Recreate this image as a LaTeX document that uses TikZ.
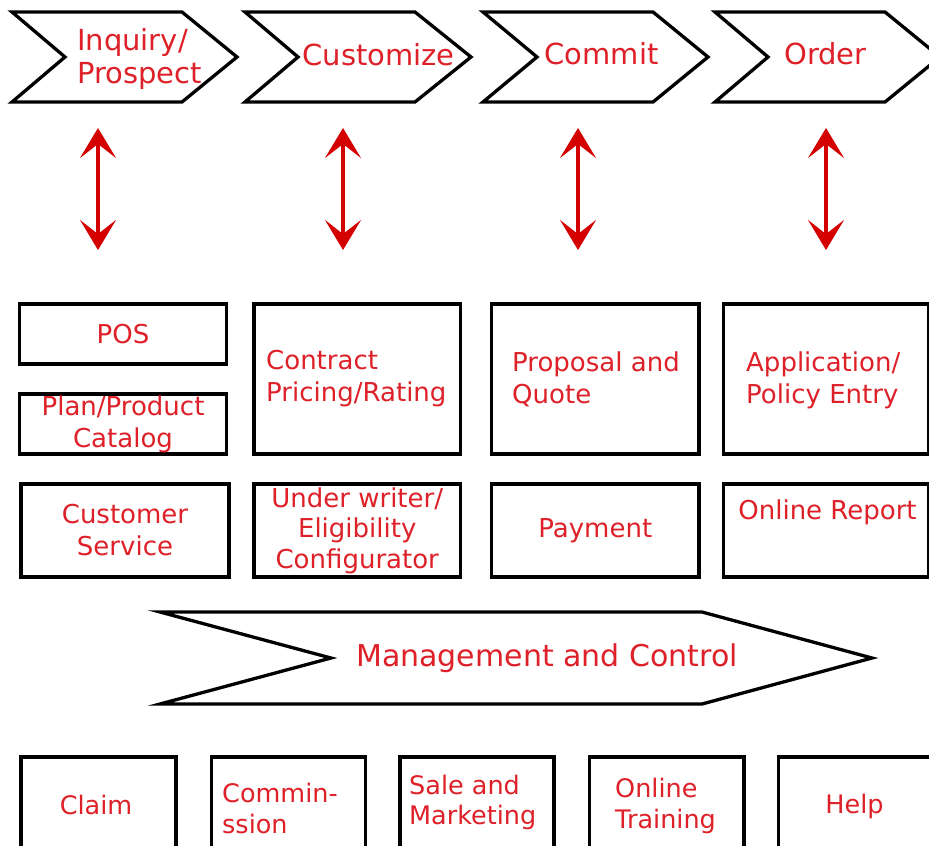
\documentclass[tikz,border=0pt]{standalone}
\usepackage{fontspec}
\setmainfont{DejaVu Sans}
\usetikzlibrary{arrows.meta}
\definecolor{labelred}{RGB}{222,32,40}
\definecolor{arrowred}{RGB}{212,0,0}

\begin{document}
\begin{tikzpicture}[x=1pt,y=-1pt,
  stage/.style={draw,line width=3.3pt,fill=white},
  block/.style={draw,line width=3.3pt,anchor=north west,inner sep=0pt,outer sep=0pt},
  lbl/.style={text=labelred,inner sep=0pt,align=center,font=\fontsize{26}{32}\selectfont},
  headlbl/.style={lbl,font=\fontsize{29}{33}\selectfont},
  baselbl/.style={lbl,align=left,font=\fontsize{25.5}{30.5}\selectfont},
  sync/.style={arrowred,line width=3.5pt,{Stealth[length=30pt,width=36pt,inset=14pt]}-{Stealth[length=30pt,width=36pt,inset=14pt]}}]

\useasboundingbox (0,0) rectangle (929,846);
\clip (0,0) rectangle (929,846);
\fill[white] (0,0) rectangle (929,846);

% process stages
\draw[stage] (12,12) -- (182,12) -- (237,57) -- (182,102) -- (12,102) -- (65,57) -- cycle;
\draw[stage] (245,12) -- (415,12) -- (471,57) -- (415,102) -- (245,102) -- (298,57) -- cycle;
\draw[stage] (483,12) -- (653,12) -- (708,57) -- (653,102) -- (483,102) -- (537,57) -- cycle;
\draw[stage] (715,12) -- (885,12) -- (940,57) -- (885,102) -- (715,102) -- (768,57) -- cycle;
\node[headlbl,align=left] (inquiry) at (139.5,59) {Inquiry/\\Prospect};
\node[headlbl] (customize) at (378.5,55) {Customize};
\node[headlbl] (commit) at (601.5,54) {Commit};
\node[headlbl] (order) at (825.5,54) {Order};

\coordinate (sync1a) at (98,128);  \coordinate (sync1b) at (98,250);
\coordinate (sync2a) at (343,128); \coordinate (sync2b) at (343,250);
\coordinate (sync3a) at (578,128); \coordinate (sync3b) at (578,250);
\coordinate (sync4a) at (826,128); \coordinate (sync4b) at (826,250);
\draw[sync] (sync1a) -- (sync1b);
\draw[sync] (sync2a) -- (sync2b);
\draw[sync] (sync3a) -- (sync3b);
\draw[sync] (sync4a) -- (sync4b);

% functions per stage
\node[block,lbl,minimum width=207,minimum height=60] (pos) at (19.5,304) {POS};
\node[block,lbl,minimum width=207,minimum height=60] (catalog) at (19.5,394) {Plan/Product\\Catalog};
\node[block,minimum width=206.5,minimum height=150] (pricing) at (254,304) {};
\node[lbl,align=left,anchor=west] (pricinglbl) at (266,379) {Contract\\Pricing/Rating};
\node[block,minimum width=207.5,minimum height=150] (proposal) at (491.5,304) {};
\node[lbl,align=left,anchor=west] (proposallbl) at (512,379) {Proposal and\\Quote};
\node[block,minimum width=205,minimum height=150] (policy) at (723.5,304) {};
\node[lbl,align=left,anchor=west] (policylbl) at (746,380) {Application/\\Policy Entry};

\node[block,lbl,minimum width=208,minimum height=93] (service) at (21,484) {Customer\\Service};
\node[block,lbl,font=\fontsize{26}{30.5}\selectfont,minimum width=206.5,minimum height=93] (underwriter) at (254,484) {Under writer/\\Eligibility\\Configurator};
\node[block,lbl,minimum width=207.5,minimum height=93] (payment) at (491.5,484) {Payment};
\node[block,minimum width=205,minimum height=93] (report) at (723.5,484) {};
\node[lbl] (reportlbl) at (827.5,512.5) {Online Report};

\draw[stage] (160,612) -- (702,612) -- (872,658) -- (702,704) -- (160,704) -- (331,658) -- cycle;
\node[lbl,font=\fontsize{30}{36}\selectfont] (mgmt) at (547,658) {Management and Control};

% shared services
\node[block,minimum width=155,minimum height=130] (claim) at (21,757) {};
\node[baselbl] (claimlbl) at (96,805) {Claim};
\node[block,minimum width=154,minimum height=130] (commission) at (211.5,757) {};
\node[baselbl,anchor=west] (commissionlbl) at (222,808.5) {Commin-\\ssion};
\node[block,minimum width=154,minimum height=130] (marketing) at (400,757) {};
\node[baselbl,anchor=west] (marketinglbl) at (409,802.5) {Sale and\\Marketing};
\node[block,minimum width=154.5,minimum height=130] (training) at (589.5,757) {};
\node[baselbl,anchor=west] (traininglbl) at (615,806) {Online\\Training};
\node[block,minimum width=155,minimum height=130] (help) at (778.5,757) {};
\node[baselbl] (helplbl) at (854.5,806.5) {Help};
\end{tikzpicture}
\end{document}
